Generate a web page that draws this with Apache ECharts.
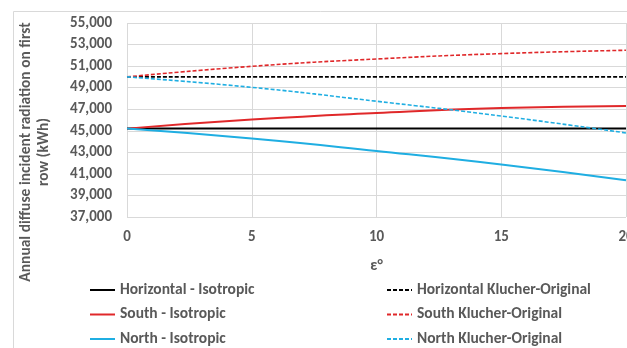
<!DOCTYPE html>
<html>
<head>
<meta charset="utf-8">
<script src="https://cdn.jsdelivr.net/npm/echarts@6/dist/echarts.min.js"></script>
<style>
  html, body { margin: 0; padding: 0; background: #fff; }
  #vis { width: 627px; height: 348px; }
</style>
</head>
<body>
<div id="vis"></div>
<script>
// tilt angle (deg)
const angles = [0, 5, 10, 15, 20];

const horizIso = [45200, 45200, 45200, 45200, 45200];
const horizKlucher = [50000, 50000, 50000, 50000, 50000];
const southIso = [45200, 46040, 46650, 47110, 47300];
const southKlucher = [50000, 50980, 51660, 52160, 52470];
const northIso = [45200, 44280, 43130, 41870, 40410];
const northKlucher = [50000, 49030, 47740, 46370, 44800];

const names = [
  'Horizontal - Isotropic', 'South - Isotropic', 'North - Isotropic',
  'Horizontal Klucher-Original', 'South Klucher-Original', 'North Klucher-Original'
];

const black = '#000000';
const red = '#e0282a';
const blue = '#1faee2';
const txt = '#595959';
const font = 'Carlito, Calibri, "Liberation Sans", sans-serif';

function pairs(vals) {
  return angles.map((a, i) => [a, vals[i]]);
}

function mk(name, vals, color, dashed) {
  return {
    name: name,
    type: 'line',
    data: pairs(vals),
    smooth: true,
    symbol: 'none',
    lineStyle: { color: color, width: dashed ? 1.6 : 2, type: dashed ? [4, 2] : 'solid' },
    itemStyle: { color: color },
    z: dashed ? 3 : 2
  };
}

const chart = echarts.init(document.getElementById('vis'), null, { renderer: 'canvas' });

const legendText = { color: txt, fontSize: 15.5, fontWeight: 'bold', fontFamily: font };

chart.setOption({
  animation: false,
  backgroundColor: '#fff',
  grid: { left: 127, right: 1, top: 23, bottom: 131, outerBoundsMode: 'none', containLabel: false },
  xAxis: {
    type: 'value', min: 0, max: 20, interval: 5,
    name: 'ε°', nameLocation: 'middle', nameGap: 41,
    nameTextStyle: { color: txt, fontSize: 15.5, fontWeight: 'bold', fontFamily: font },
    axisLine: { show: false },
    axisTick: { show: false },
    splitLine: { show: true, lineStyle: { color: '#d9d9d9', width: 1 } },
    axisLabel: { color: txt, fontSize: 15, fontWeight: 'bold', fontFamily: font, margin: 13 }
  },
  yAxis: {
    type: 'value', min: 37000, max: 55000, interval: 2000,
    axisLine: { show: false },
    axisTick: { show: false },
    splitLine: { show: true, lineStyle: { color: '#d9d9d9', width: 1 } },
    axisLabel: {
      color: txt, fontSize: 15, fontWeight: 'bold', fontFamily: font, margin: 15,
      formatter: v => v.toLocaleString('en-US')
    }
  },
  legend: [
    {
      data: names.slice(0, 3), orient: 'vertical', left: 89, top: 282, padding: 0,
      itemWidth: 25, itemHeight: 14, itemGap: 8.5, textStyle: legendText,
      itemStyle: { opacity: 0 }
    },
    {
      data: names.slice(3), orient: 'vertical', left: 386, top: 282, padding: 0,
      itemWidth: 25, itemHeight: 14, itemGap: 8.5, textStyle: legendText,
      itemStyle: { opacity: 0 }
    }
  ],
  graphic: [
    {
      type: 'rect', left: 11, top: 9, silent: true, z: -1,
      shape: { width: 640, height: 360 },
      style: { fill: 'none', stroke: '#d9d9d9', lineWidth: 1 }
    },
    {
      type: 'text', x: 35, y: 152, rotation: Math.PI / 2, silent: true,
      style: {
        text: 'Annual diffuse incident radiation on first\nrow (kWh)',
        fill: txt, font: 'bold 15.5px ' + font, align: 'center', verticalAlign: 'middle',
        lineHeight: 18
      }
    }
  ],
  series: [
    mk(names[0], horizIso, black, false),
    mk(names[1], southIso, red, false),
    mk(names[2], northIso, blue, false),
    mk(names[3], horizKlucher, black, true),
    mk(names[4], southKlucher, red, true),
    mk(names[5], northKlucher, blue, true)
  ]
});
</script>
</body>
</html>
